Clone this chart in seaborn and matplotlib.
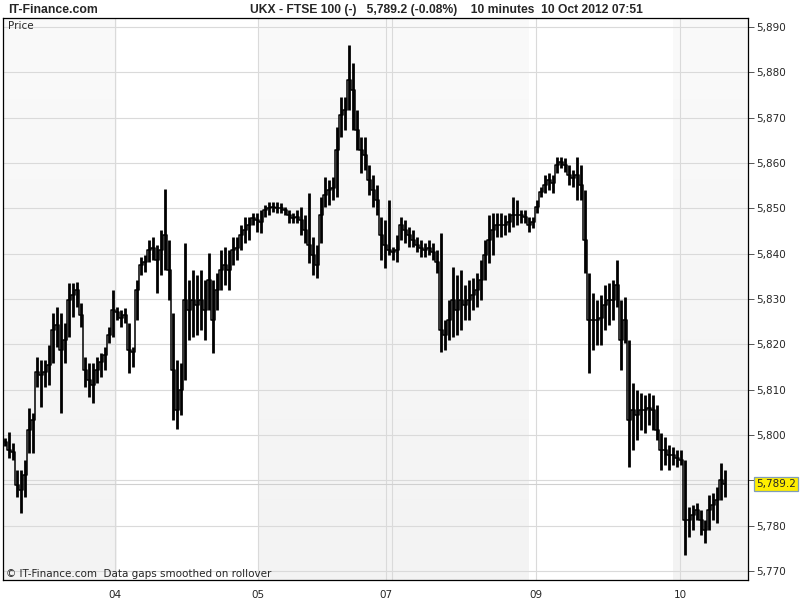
import numpy as np
import pandas as pd
import matplotlib
matplotlib.use("Agg")
import matplotlib.pyplot as plt
import seaborn as sns
from matplotlib.colors import LinearSegmentedColormap

# ---- data (10-minute bars, FTSE 100, 3-10 Oct 2012) ----
high = [5799.3, 5800.7, 5798.2, 5792.3, 5792.3, 5794.5, 5806.0, 5804.9, 5817.2, 5816.5,
        5816.5, 5819.9, 5826.9, 5828.2, 5826.9, 5824.7, 5833.5, 5833.5, 5833.7, 5829.1,
        5817.2, 5815.9, 5815.9, 5817.2, 5818.1, 5819.4, 5823.8, 5832.0, 5828.2, 5827.6,
        5828.0, 5824.7, 5819.4, 5834.2, 5839.3, 5839.7, 5843.0, 5843.7, 5841.9, 5845.2,
        5854.3, 5843.0, 5826.9, 5816.5, 5815.9, 5842.4, 5834.2, 5836.4, 5835.3, 5836.4,
        5834.2, 5840.1, 5834.2, 5835.7, 5840.8, 5841.5, 5840.8, 5843.7, 5843.7, 5846.3,
        5848.1, 5848.1, 5849.0, 5849.0, 5849.6, 5850.7, 5851.4, 5851.4, 5851.4, 5851.2,
        5850.3, 5849.6, 5849.0, 5849.6, 5850.3, 5848.5, 5853.4, 5843.7, 5841.9, 5852.5,
        5856.9, 5856.3, 5856.9, 5867.9, 5874.6, 5874.6, 5886.0, 5882.1, 5871.7, 5865.7,
        5865.7, 5859.6, 5857.4, 5855.1, 5848.1, 5847.4, 5851.8, 5841.5, 5844.1, 5848.1,
        5847.4, 5845.9, 5845.2, 5843.7, 5843.0, 5842.4, 5843.0, 5842.4, 5840.8, 5844.6,
        5825.4, 5829.8, 5837.1, 5835.3, 5836.4, 5833.1, 5834.2, 5834.6, 5835.7, 5838.6,
        5843.0, 5848.5, 5849.0, 5849.0, 5849.0, 5848.5, 5849.0, 5852.5, 5851.8, 5849.6,
        5849.6, 5848.1, 5848.1, 5851.8, 5854.7, 5857.4, 5857.8, 5857.4, 5861.3, 5861.3,
        5861.1, 5859.6, 5858.5, 5861.3, 5859.6, 5854.0, 5835.7, 5831.3, 5829.8, 5830.9,
        5833.1, 5833.5, 5834.2, 5838.6, 5829.8, 5830.4, 5821.0, 5811.5, 5809.9, 5809.3,
        5808.8, 5809.3, 5808.8, 5806.6, 5800.4, 5799.6, 5797.8, 5797.3, 5796.7, 5796.7,
        5794.5, 5784.1, 5784.6, 5785.0, 5783.5, 5781.2, 5786.8, 5787.2, 5788.5, 5793.8,
        5792.3]

low = [5797.6, 5794.9, 5794.5, 5786.3, 5782.8, 5786.3, 5796.0, 5796.0, 5810.6, 5806.2,
       5810.6, 5811.0, 5815.9, 5819.4, 5804.9, 5815.9, 5821.6, 5826.0, 5828.2, 5823.8,
       5810.6, 5808.4, 5807.1, 5811.5, 5812.8, 5814.3, 5820.3, 5821.6, 5825.4, 5823.8,
       5824.7, 5813.7, 5815.0, 5825.4, 5835.3, 5836.0, 5838.2, 5838.6, 5831.3, 5835.3,
       5836.4, 5829.8, 5803.3, 5801.3, 5804.4, 5812.1, 5821.0, 5821.6, 5822.1, 5823.2,
       5821.0, 5827.6, 5818.1, 5827.6, 5832.0, 5833.1, 5832.0, 5837.5, 5838.6, 5840.8,
       5842.4, 5843.0, 5846.3, 5844.8, 5844.6, 5848.1, 5848.5, 5849.2, 5849.0, 5849.0,
       5848.5, 5846.8, 5846.8, 5846.8, 5844.1, 5842.4, 5837.9, 5835.3, 5834.6, 5842.4,
       5850.3, 5850.7, 5851.8, 5852.5, 5865.7, 5867.3, 5871.7, 5867.3, 5862.9, 5857.8,
       5858.5, 5852.9, 5850.3, 5848.5, 5838.6, 5836.8, 5839.7, 5838.6, 5838.2, 5843.0,
       5842.4, 5841.5, 5841.5, 5840.4, 5839.3, 5839.3, 5839.7, 5838.6, 5835.7, 5818.3,
       5818.7, 5821.0, 5821.6, 5822.1, 5823.2, 5825.4, 5825.4, 5827.6, 5828.2, 5829.8,
       5834.2, 5837.9, 5839.7, 5843.7, 5843.7, 5844.1, 5844.8, 5845.9, 5846.3, 5846.8,
       5846.8, 5844.8, 5845.7, 5849.0, 5852.5, 5853.4, 5854.0, 5853.4, 5857.8, 5858.9,
       5858.0, 5855.1, 5854.7, 5851.8, 5851.8, 5835.7, 5813.7, 5818.7, 5819.9, 5819.9,
       5823.2, 5824.3, 5825.4, 5828.2, 5814.3, 5820.3, 5792.9, 5796.7, 5798.9, 5801.1,
       5800.4, 5802.2, 5801.1, 5798.9, 5792.3, 5793.4, 5792.3, 5793.4, 5792.9, 5793.4,
       5773.5, 5777.5, 5779.0, 5781.2, 5777.9, 5776.2, 5779.0, 5781.2, 5780.6, 5785.7,
       5786.3]

close = [5798.5, 5796.7, 5796.3, 5789.0, 5787.9, 5791.2, 5801.1, 5803.3, 5813.9, 5813.2,
         5813.9, 5815.4, 5823.2, 5824.3, 5818.7, 5821.0, 5829.8, 5830.9, 5832.0, 5826.5,
         5814.3, 5812.1, 5811.0, 5814.3, 5816.1, 5817.6, 5822.1, 5827.6, 5827.1, 5825.8,
         5826.5, 5818.7, 5818.3, 5832.0, 5837.5, 5838.2, 5840.8, 5841.2, 5838.6, 5840.8,
         5844.1, 5836.4, 5814.3, 5805.5, 5809.9, 5829.8, 5827.6, 5829.8, 5828.7, 5829.8,
         5827.6, 5834.2, 5825.4, 5832.0, 5836.4, 5837.5, 5836.4, 5840.8, 5841.2, 5844.1,
         5845.2, 5846.3, 5847.9, 5847.4, 5847.0, 5849.6, 5850.1, 5850.3, 5850.1, 5850.1,
         5849.6, 5848.5, 5847.9, 5848.1, 5847.4, 5845.2, 5841.9, 5839.7, 5837.5, 5848.5,
         5852.9, 5854.0, 5854.5, 5862.9, 5870.6, 5871.7, 5878.3, 5876.1, 5867.3, 5862.9,
         5861.8, 5856.3, 5854.0, 5851.8, 5844.1, 5841.9, 5840.8, 5840.4, 5840.8, 5846.3,
         5845.2, 5844.1, 5843.0, 5841.9, 5841.2, 5840.8, 5841.2, 5840.4, 5838.2, 5823.2,
         5822.1, 5825.4, 5829.8, 5827.6, 5829.8, 5828.7, 5829.8, 5830.9, 5832.0, 5834.2,
         5839.7, 5843.0, 5845.2, 5846.3, 5846.3, 5846.3, 5847.0, 5848.5, 5848.5, 5848.5,
         5848.1, 5846.3, 5847.0, 5850.3, 5853.6, 5855.1, 5856.3, 5855.6, 5859.6, 5860.2,
         5859.6, 5857.4, 5856.7, 5857.4, 5855.1, 5843.0, 5825.4, 5825.4, 5825.4, 5825.8,
         5828.7, 5829.8, 5829.8, 5833.1, 5821.0, 5825.4, 5803.3, 5805.5, 5804.4, 5805.5,
         5805.5, 5806.0, 5805.5, 5801.1, 5796.7, 5796.7, 5795.6, 5795.6, 5794.9, 5794.5,
         5781.2, 5781.2, 5782.4, 5783.5, 5781.2, 5779.0, 5783.5, 5784.6, 5785.7, 5790.1,
         5789.2]

day_labels = ["04", "05", "07", "09", "10"]
day_start_bar = [27.5, 63.25, 95.25, 132.75, 168.75]
extra_day_line = [96.75]
shaded_sessions = [(-0.5, 28.0), (63.25, 131.0), (167.0, 185.75)]
price_ticks = [5770, 5780, 5790, 5800, 5810, 5820, 5830, 5840, 5850, 5860, 5870, 5880, 5890]
last_price = 5789.2
title_text = "UKX - FTSE 100 (-)   5,789.2 (-0.08%)    10 minutes  10 Oct 2012 07:51"

df = pd.DataFrame({"bar": np.arange(len(high)), "high": high, "low": low, "close": close})

sns.set_style("white")
plt.rcParams["font.family"] = ["DejaVu Sans"]

fig = plt.figure(figsize=(8, 6), dpi=100)
fig.patch.set_facecolor("white")
ax = fig.add_axes([3 / 800, 20 / 600, 745 / 800, 562 / 600])

XMIN, XMAX = -0.5, 185.75
YMIN, YMAX = 5768.0, 5892.0

# shaded day bands with a soft vertical gradient
cmap = LinearSegmentedColormap.from_list("band", ["#fafafa", "#f3f3f3"])
grad = np.linspace(0, 1, 256).reshape(-1, 1)
for x0, x1 in shaded_sessions:
    ax.imshow(grad, extent=[x0, x1, YMIN, YMAX], origin="upper", aspect="auto",
              cmap=cmap, zorder=0, interpolation="bilinear")
ax.set_xlim(XMIN, XMAX)
ax.set_ylim(YMIN, YMAX)

# grid
for yv in price_ticks:
    ax.axhline(yv, color="#dadada", lw=0.8, zorder=1)
for xv in day_start_bar + extra_day_line:
    ax.axvline(xv, color="#dadada", lw=0.8, zorder=1)
ax.axhline(last_price, color="#d0d0d0", lw=0.8, zorder=1)

# price bars
ax.vlines(df["bar"], df["low"], df["high"], color="black", lw=2.0, zorder=3)
sns.lineplot(data=df, x="bar", y="close", ax=ax, color="black", lw=1.1,
             drawstyle="steps-mid", zorder=3, legend=False)

# axes styling
for sp in ax.spines.values():
    sp.set_visible(True)
    sp.set_color("black")
    sp.set_linewidth(0.9)

ax.yaxis.tick_right()
ax.set_yticks(price_ticks)
# the 5,790 label is hidden behind the last-price tag in the reference
ax.set_yticklabels(["" if abs(v - last_price) < 5 else f"{v:,}" for v in price_ticks])
ax.tick_params(axis="y", direction="out", length=4, width=0.7, color="#555555",
               labelsize=7.5, pad=2, right=True, left=False)
ax.set_xticks(day_start_bar)
ax.set_xticklabels(day_labels)
ax.tick_params(axis="x", direction="out", length=4, width=0.8, color="#8a9aaa",
               labelsize=7.5, pad=3)
ax.set_xlabel("")
ax.set_ylabel("")

# texts
fig.text(8 / 800, 1 - 10 / 600, "IT-Finance.com", fontsize=8.8, fontweight="bold",
         family=["Liberation Sans", "DejaVu Sans"], va="center", ha="left")
fig.text(250 / 800, 1 - 10 / 600, title_text, fontsize=8.7, fontweight="bold",
         family=["Liberation Sans", "DejaVu Sans"], va="center", ha="left")
ax.text(5 / 745, 1 - 8 / 562, "Price", transform=ax.transAxes, fontsize=7.5,
        va="center", ha="left")
ax.text(3 / 745, 6 / 562, "\u00a9 IT-Finance.com  Data gaps smoothed on rollover",
        transform=ax.transAxes, fontsize=7.5, va="center", ha="left")
ax.annotate(f"{last_price:,.1f}", xy=(1.011, last_price), xycoords=("axes fraction", "data"),
            fontsize=7.5, va="center", ha="left", annotation_clip=False,
            bbox=dict(boxstyle="square,pad=0.2", fc="#ffee00", ec="#7f9db9", lw=0.9))

fig.savefig("out.png", dpi=100)
